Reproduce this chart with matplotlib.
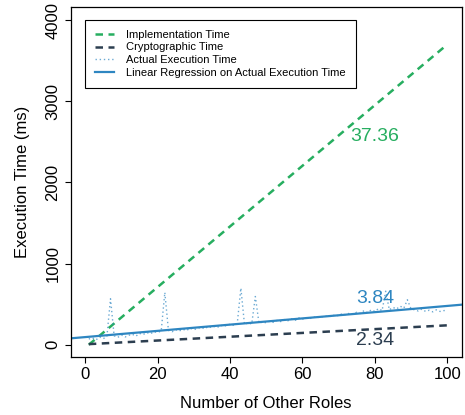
import numpy as np
import matplotlib
matplotlib.use('Agg')
import matplotlib.pyplot as plt

plt.rcParams['font.family'] = ['Liberation Sans', 'DejaVu Sans']

# measured execution time for 1..100 other roles (ms)
roles = np.arange(1, 101)
actual_ms = [70, 85, 60, 95, 75, 100, 566, 110, 90, 120,
             95, 115, 130, 105, 140, 125, 150, 135, 160, 150,
             170, 644, 175, 160, 185, 170, 190, 175, 205, 185,
             200, 215, 195, 225, 210, 230, 215, 245, 230, 255,
             240, 260, 698, 250, 270, 255, 594, 265, 280, 270,
             290, 275, 300, 285, 310, 295, 320, 300, 330, 315,
             335, 320, 345, 330, 350, 340, 360, 345, 370, 355,
             385, 365, 390, 375, 400, 385, 420, 395, 430, 410,
             445, 420, 660, 430, 460, 440, 475, 450, 554, 440,
             430, 415, 440, 410, 425, 405, 430, 410, 420, 425]

# fitted slopes / intercepts (ms per role)
impl_slope, impl_icpt = 37.36, -37.36
crypto_slope, crypto_icpt = 2.34, 5.0
reg_slope, reg_icpt = 3.84, 94.0

green = '#27AE60'
dark = '#2C3E50'
blue = '#2E86C1'

fig = plt.figure(figsize=(4.65, 4.15), dpi=100)
ax = fig.add_axes([0.152, 0.14, 0.841, 0.843])

ends = np.array([roles[0], roles[-1]])
ax.plot(ends, impl_icpt + impl_slope * ends, color=green, lw=1.8,
        linestyle=(0, (3.0, 2.2)), label='Implementation Time')
ax.plot(ends, crypto_icpt + crypto_slope * ends, color=dark, lw=1.8,
        linestyle=(0, (3.0, 2.2)), label='Cryptographic Time')
ax.plot(roles, actual_ms, color=blue, lw=1.0, linestyle=(0, (1, 2)),
        alpha=0.7, label='Actual Execution Time')
ax.axline((0, reg_icpt), slope=reg_slope, color=blue, lw=1.6,
          label='Linear Regression on Actual Execution Time')

ax.text(80, 2560, f'{impl_slope:.2f}', color=green, fontsize=14,
        ha='center', va='center')
ax.text(80, 570, f'{reg_slope:.2f}', color=blue, fontsize=14,
        ha='center', va='center')
ax.text(80, 50, f'{crypto_slope:.2f}', color=dark, fontsize=14,
        ha='center', va='center')

ax.set_xlim(-4, 104)
ax.set_ylim(-150, 4160)
ax.set_xticks([0, 20, 40, 60, 80, 100])
ax.set_yticks([0, 1000, 2000, 3000, 4000])
ax.tick_params(direction='out', length=4.5, width=0.8, labelsize=12, pad=3)
for lab in ax.get_yticklabels():
    lab.set_rotation(90)
    lab.set_va('center')
ax.set_xlabel('Number of Other Roles', fontsize=12, labelpad=10)
ax.set_ylabel('Execution Time (ms)', fontsize=12, labelpad=11)
for s in ax.spines.values():
    s.set_linewidth(0.9)

leg = ax.legend(loc='upper left', bbox_to_anchor=(0.0366, 0.964),
                borderaxespad=0, fontsize=8, frameon=True, fancybox=False,
                edgecolor='black', framealpha=1, handlelength=1.7,
                handletextpad=1.1, labelspacing=0.25, borderpad=0.9)
leg.get_frame().set_linewidth(0.8)

fig.savefig('out.png', dpi=100)
